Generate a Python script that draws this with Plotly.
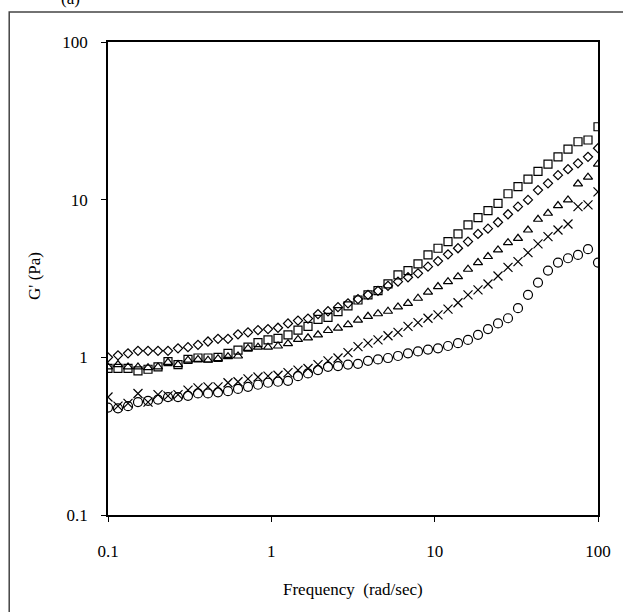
import plotly.graph_objects as go

freq = [0.1, 0.1151, 0.1326, 0.1526, 0.1758, 0.2024, 0.2330, 0.2683, 0.3089, 0.3556,
        0.4095, 0.4715, 0.5429, 0.6251, 0.7197, 0.8286, 0.9541, 1.0985, 1.2649, 1.4563,
        1.6768, 1.9307, 2.2230, 2.5595, 2.9471, 3.3932, 3.9069, 4.4984, 5.1795, 5.9636,
        6.8665, 7.9060, 9.1030, 10.481, 12.068, 13.895, 15.999, 18.421, 21.210, 24.421,
        28.118, 32.375, 37.276, 42.919, 49.417, 56.899, 65.513, 75.431, 86.851, 100.0]

g_square = [0.85, 0.85, 0.85, 0.82, 0.84, 0.87, 0.94, 0.90, 0.97, 0.99,
            0.99, 1.00, 1.06, 1.11, 1.16, 1.24, 1.29, 1.32, 1.39, 1.49,
            1.57, 1.74, 1.79, 1.95, 2.12, 2.31, 2.49, 2.65, 2.92, 3.33,
            3.55, 3.91, 4.46, 4.92, 5.42, 6.06, 6.92, 7.69, 8.51, 9.48,
            10.9, 12.1, 13.5, 15.1, 16.8, 18.7, 20.9, 23.3, 23.9, 29.0]

g_diamond = [1.00, 1.03, 1.06, 1.10, 1.10, 1.10, 1.10, 1.14, 1.16, 1.20,
             1.26, 1.31, 1.31, 1.40, 1.44, 1.49, 1.51, 1.54, 1.64, 1.71,
             1.76, 1.88, 1.96, 2.08, 2.20, 2.34, 2.49, 2.64, 2.84, 3.02,
             3.22, 3.41, 3.76, 4.08, 4.50, 4.92, 5.42, 6.06, 6.55, 7.19,
             8.08, 9.03, 9.96, 11.5, 12.7, 14.3, 15.6, 17.0, 18.7, 21.2]

g_triangle = [0.87, 0.90, 0.87, 0.87, 0.86, 0.87, 0.93, 0.90, 0.96, 0.97,
              0.96, 0.98, 1.01, 1.02, 1.14, 1.16, 1.16, 1.18, 1.22, 1.30,
              1.33, 1.39, 1.48, 1.53, 1.61, 1.72, 1.82, 1.89, 1.96, 2.09,
              2.20, 2.37, 2.59, 2.81, 3.02, 3.25, 3.62, 3.99, 4.36, 4.80,
              5.34, 5.69, 6.42, 7.51, 8.20, 9.17, 9.96, 12.6, 13.9, 16.8]

g_cross = [0.56, 0.49, 0.51, 0.59, 0.52, 0.58, 0.57, 0.58, 0.62, 0.64,
           0.65, 0.65, 0.69, 0.70, 0.73, 0.75, 0.76, 0.77, 0.80, 0.83,
           0.85, 0.90, 0.95, 0.99, 1.07, 1.17, 1.23, 1.29, 1.37, 1.44,
           1.57, 1.66, 1.77, 1.86, 2.02, 2.22, 2.49, 2.68, 2.92, 3.28,
           3.72, 4.05, 4.61, 5.24, 5.83, 6.42, 7.01, 9.03, 9.26, 11.2]

g_circle = [0.48, 0.475, 0.49, 0.52, 0.53, 0.54, 0.56, 0.56, 0.57, 0.59,
            0.59, 0.60, 0.61, 0.63, 0.65, 0.67, 0.69, 0.70, 0.71, 0.76,
            0.79, 0.83, 0.87, 0.88, 0.90, 0.91, 0.95, 0.97, 0.99, 1.02,
            1.06, 1.09, 1.12, 1.14, 1.18, 1.23, 1.29, 1.39, 1.51, 1.64,
            1.77, 2.05, 2.49, 2.98, 3.55, 3.99, 4.25, 4.46, 4.85, 3.99]

series = [
    ("square", g_square, "square-open", 8),
    ("diamond", g_diamond, "diamond-open", 7),
    ("triangle", g_triangle, "triangle-up-open", 8),
    ("cross", g_cross, "x-thin-open", 9),
    ("circle", g_circle, "circle-open", 9),
]

fig = go.Figure()
for name, vals, sym, sz in series:
    fig.add_trace(go.Scatter(
        x=freq, y=vals, mode="markers", name=name,
        marker=dict(symbol=sym, size=sz, color="black",
                    line=dict(color="black", width=1.2)),
    ))

font = "Liberation Serif"
axis_common = dict(
    type="log", showgrid=False, zeroline=False,
    showline=True, linecolor="black", linewidth=1.6, mirror=True,
    ticks="outside", ticklen=5, tickcolor="black", tickwidth=1.2,
    tickfont=dict(family=font, size=17, color="black"),
)
fig.update_xaxes(range=[-1, 2], tickvals=[0.1, 1, 10, 100],
                 ticktext=["0.1", "1", "10", "100"], ticklabelstandoff=15,
                 **axis_common)
fig.update_yaxes(range=[-1, 2], tickvals=[0.1, 1, 10, 100],
                 ticktext=["0.1", "1", "10", "100"], ticklabelstandoff=10,
                 **axis_common)

W, H = 623, 612
L, R, T, B = 108, 19, 42, 97
pw, ph = W - L - R, H - T - B

def px(xp):
    return (xp - L) / pw

def py(yp):
    return (H - B - yp) / ph

fig.add_shape(type="rect", xref="paper", yref="paper",
              x0=px(8), x1=px(640), y0=py(640), y1=py(12),
              line=dict(color="#444444", width=1.5), layer="below")

fig.add_annotation(text="G' (Pa)", xref="paper", yref="paper",
                   x=px(33), y=py(276), xanchor="center", yanchor="middle",
                   showarrow=False, textangle=-90,
                   font=dict(family=font, size=17, color="black"))
fig.add_annotation(text="Frequency  (rad/sec)", xref="paper", yref="paper",
                   x=px(356), y=py(589), xanchor="center", yanchor="middle",
                   showarrow=False,
                   font=dict(family=font, size=17, color="black"))
fig.add_annotation(text="(a)", xref="paper", yref="paper",
                   x=px(70), y=py(10), xanchor="center", yanchor="bottom",
                   showarrow=False,
                   font=dict(family=font, size=17, color="black"))

fig.update_layout(
    width=W, height=H, margin=dict(l=L, r=R, t=T, b=B),
    paper_bgcolor="white", plot_bgcolor="white", showlegend=False,
)
fig.write_html("out.html")
